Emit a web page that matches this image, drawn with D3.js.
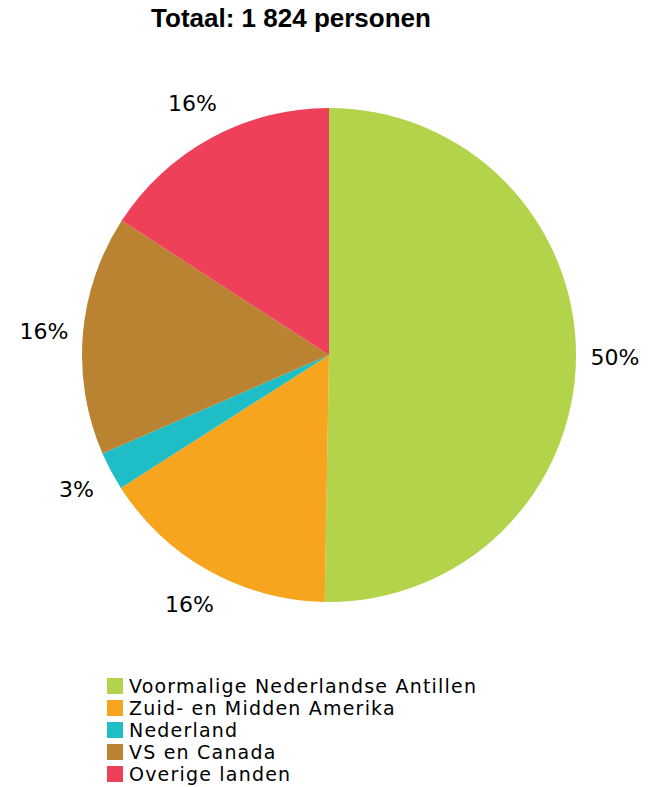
<!DOCTYPE html>
<html>
<head>
<meta charset="utf-8">
<script src="https://cdn.jsdelivr.net/npm/d3@7"></script>
<style>
  body { margin: 0; background: #fff; }
  text { font-family: "DejaVu Sans", Verdana, sans-serif; fill: #000; }
</style>
</head>
<body>
<div class="chart"></div>
<script>
// data (1 824 persons in total)
const categories = [
  'Voormalige Nederlandse Antillen',
  'Zuid- en Midden Amerika',
  'Nederland',
  'VS en Canada',
  'Overige landen',
];
const counts = [917, 286, 46, 286, 289];
const colors = ['#b3d34a', '#f7a41f', '#1fbec6', '#b98332', '#ee4058'];
const title = 'Totaal: 1 824 personen';

const width = 650, height = 787;
const cx = 329, cy = 355, radius = 247;

const data = categories.map((c, i) => ({ name: c, value: counts[i], color: colors[i] }));
const total = d3.sum(counts);

const svg = d3.select('.chart').append('svg')
  .attr('width', width)
  .attr('height', height);

// title
svg.append('text')
  .attr('x', 291)
  .attr('y', 27)
  .attr('text-anchor', 'middle')
  .style('font-family', '"Liberation Sans", Arial, sans-serif')
  .style('font-weight', 'bold')
  .style('font-size', '26px')
  .text(title);

// the pie, clockwise from 12 o'clock
const pie = d3.pie().sort(null).value(d => d.value);
const arc = d3.arc().innerRadius(0).outerRadius(radius);

const g = svg.append('g')
  .attr('transform', `translate(${cx},${cy})`);

const arcs = pie(data);

g.selectAll('path')
  .data(arcs)
  .enter().append('path')
  .attr('d', arc)
  .attr('fill', d => d.data.color);

// percentage labels outside the slices
const labelArc = d3.arc().innerRadius(286).outerRadius(286);
g.selectAll('text.lbl')
  .data(arcs)
  .enter().append('text')
  .attr('class', 'lbl')
  .attr('transform', d => `translate(${labelArc.centroid(d)})`)
  .attr('text-anchor', 'middle')
  .attr('dy', '0.35em')
  .style('font-size', '22px')
  .text(d => `${Math.round(d.data.value / total * 100)}%`);

// legend
const legend = svg.append('g')
  .attr('transform', 'translate(107,686)');

const row = legend.selectAll('g')
  .data(data)
  .enter().append('g')
  .attr('transform', (d, i) => `translate(0,${i * 22})`);

row.append('rect')
  .attr('x', 0)
  .attr('y', -8)
  .attr('width', 16)
  .attr('height', 16)
  .attr('fill', d => d.color);

row.append('text')
  .attr('x', 22)
  .attr('y', 7)
  .style('font-size', '19px')
  .style('letter-spacing', '1.2px')
  .text(d => d.name);
</script>
</body>
</html>
